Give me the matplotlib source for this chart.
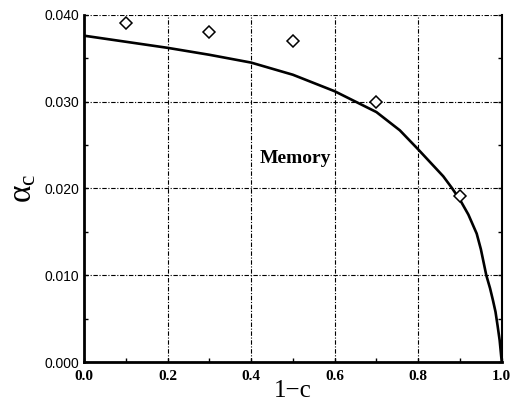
import matplotlib
matplotlib.use("Agg")
import matplotlib.pyplot as plt
from matplotlib.ticker import MultipleLocator, FormatStrFormatter

# curve
curve_x = [0.0, 0.1, 0.2, 0.3, 0.4, 0.5, 0.6, 0.7, 0.756, 0.8, 0.86, 0.88,
           0.9, 0.92, 0.94, 0.95, 0.963, 0.972, 0.979, 0.985, 0.99, 0.995, 1.0]
curve_y = [0.0376, 0.0369, 0.0362, 0.0354, 0.0345, 0.0331, 0.0312, 0.0288,
           0.0267, 0.0245, 0.0214, 0.0201, 0.0187, 0.0170, 0.0148, 0.0130,
           0.0100, 0.0085, 0.0071, 0.0058, 0.0042, 0.0025, 0.0]

# diamond points
pts_x = [0.1, 0.3, 0.5, 0.7, 0.9]
pts_y = [0.0391, 0.0380, 0.0370, 0.0300, 0.0191]

plt.rcParams["mathtext.fontset"] = "custom"
plt.rcParams["mathtext.rm"] = "Liberation Serif"

fig = plt.figure(figsize=(5.12, 4.01), dpi=100)
ax = fig.add_axes([0.164, 0.097, 0.816, 0.866])

ax.plot(curve_x, curve_y, color="black", lw=1.9, zorder=3)
ax.plot(pts_x, pts_y, linestyle="none", marker="D", markersize=6,
        markerfacecolor="white", markeredgecolor="black", markeredgewidth=1.1,
        zorder=4)

ax.text(0.507, 0.0235, "Memory", family="Liberation Serif", fontweight="bold",
        fontsize=14, ha="center", va="center")

ax.set_xlim(0.0, 1.0)
ax.set_ylim(0.0, 0.040)
ax.xaxis.set_major_locator(MultipleLocator(0.2))
ax.xaxis.set_minor_locator(MultipleLocator(0.1))
ax.yaxis.set_major_locator(MultipleLocator(0.010))
ax.yaxis.set_minor_locator(MultipleLocator(0.005))
ax.xaxis.set_major_formatter(FormatStrFormatter("%.1f"))
ax.yaxis.set_major_formatter(FormatStrFormatter("%.3f"))

ax.grid(True, which="major", color="black", linestyle=(0, (4, 1.5, 1, 1.5)),
        linewidth=0.8)
ax.tick_params(which="both", direction="in", right=True, top=False,
               length=3, width=1.0)
ax.tick_params(axis="x", pad=6)

for lab in ax.get_xticklabels():
    lab.set_family("Liberation Serif")
    lab.set_fontweight("bold")
    lab.set_fontsize(11)
for lab in ax.get_yticklabels():
    lab.set_family("Liberation Sans")
    lab.set_fontsize(10)

ax.spines["left"].set_linewidth(2.0)
ax.spines["bottom"].set_linewidth(2.0)
ax.spines["right"].set_linewidth(1.5)
ax.spines["top"].set_visible(False)

ax.set_xlabel("1\u2212c", family="Liberation Serif", fontsize=18)
ax.xaxis.set_label_coords(0.5, -0.052)
ax.set_ylabel(r"$\mathregular{\alpha_c}$", family="Liberation Serif",
              fontsize=24, labelpad=4)

fig.savefig("out.png", dpi=100)
